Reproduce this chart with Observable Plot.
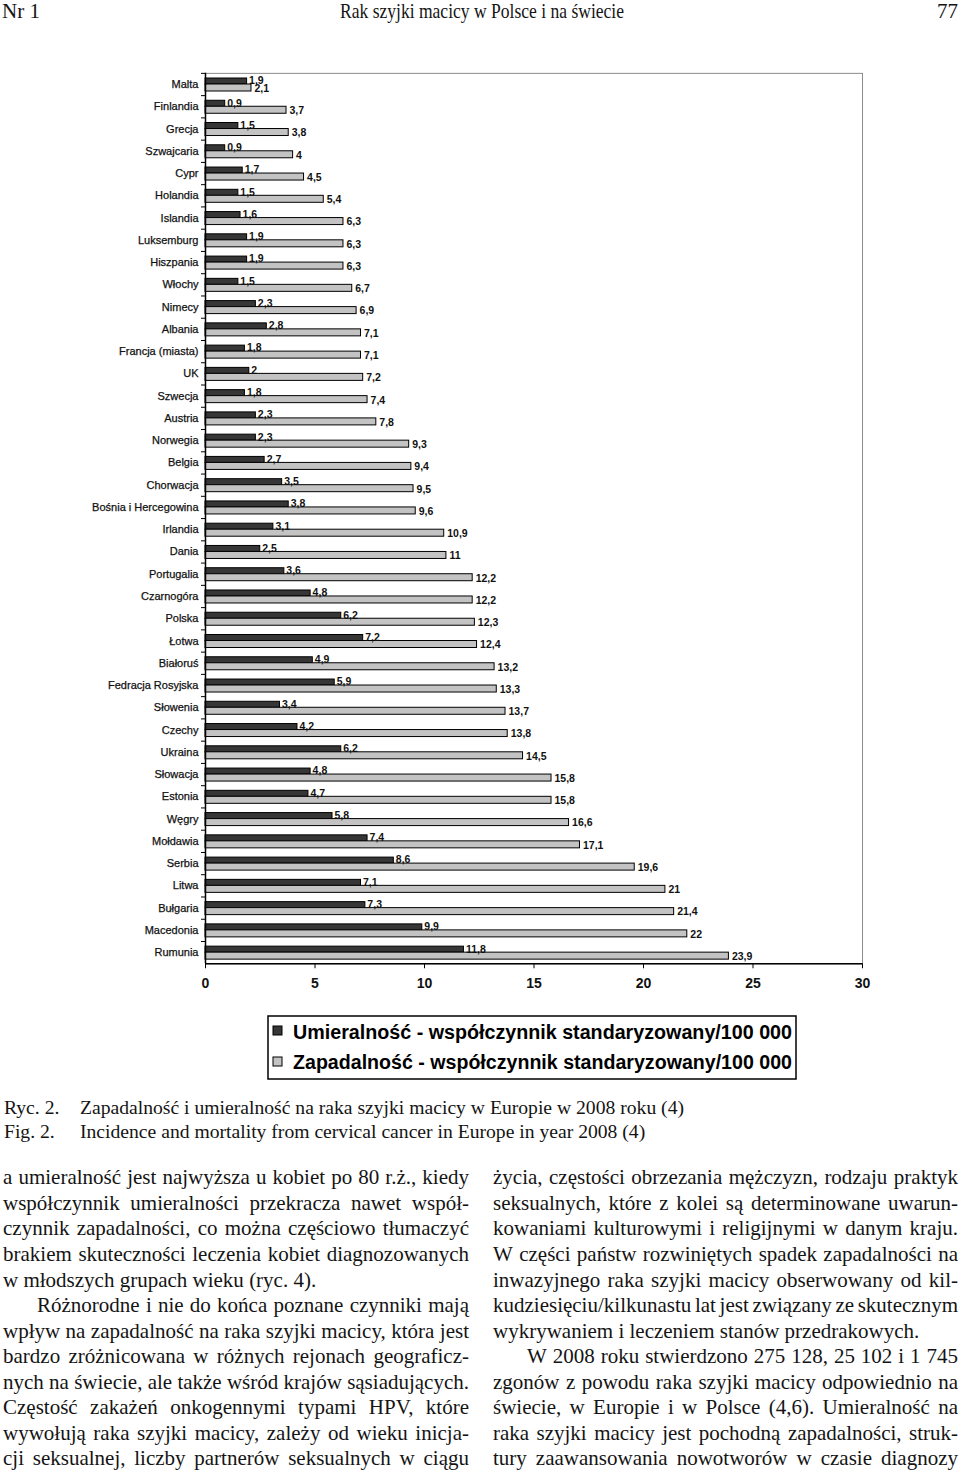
<!DOCTYPE html>
<html><head><meta charset="utf-8">
<script src="https://cdn.jsdelivr.net/npm/d3@7"></script>
<script src="https://cdn.jsdelivr.net/npm/@observablehq/plot@0.6"></script>
<style>
html,body{margin:0;padding:0;background:#fff;}
#page{position:relative;width:960px;height:1476px;overflow:hidden;background:#fff}
#chart{position:absolute;left:0;top:0}
#overlay{position:absolute;left:0;top:0}
#chart svg g[aria-label="y-axis tick label"] text{stroke:#111;stroke-width:0.25px}
</style></head><body>
<div id="page"><div id="chart"></div><svg id="overlay" width="960" height="1476"></svg></div>
<script>
// ---- data ----
const countries = ["Malta","Finlandia","Grecja","Szwajcaria","Cypr","Holandia","Islandia","Luksemburg","Hiszpania","Włochy","Nimecy","Albania","Francja (miasta)","UK","Szwecja","Austria","Norwegia","Belgia","Chorwacja","Bośnia i Hercegowina","Irlandia","Dania","Portugalia","Czarnogóra","Polska","Łotwa","Białoruś","Fedracja Rosyjska","Słowenia","Czechy","Ukraina","Słowacja","Estonia","Węgry","Mołdawia","Serbia","Litwa","Bułgaria","Macedonia","Rumunia"];
const mortality = [1.9,0.9,1.5,0.9,1.7,1.5,1.6,1.9,1.9,1.5,2.3,2.8,1.8,2,1.8,2.3,2.3,2.7,3.5,3.8,3.1,2.5,3.6,4.8,6.2,7.2,4.9,5.9,3.4,4.2,6.2,4.8,4.7,5.8,7.4,8.6,7.1,7.3,9.9,11.8];
const incidence = [2.1,3.7,3.8,4,4.5,5.4,6.3,6.3,6.3,6.7,6.9,7.1,7.1,7.2,7.4,7.8,9.3,9.4,9.5,9.6,10.9,11,12.2,12.2,12.3,12.4,13.2,13.3,13.7,13.8,14.5,15.8,15.8,16.6,17.1,19.6,21,21.4,22,23.9];
const xTicks = [0,5,10,15,20,25,30];
const seriesNames = ["Umieralność - współczynnik standaryzowany/100 000","Zapadalność - współczynnik standaryzowany/100 000"];
const headerLeft = "Nr 1", headerTitle = "Rak szyjki macicy w Polsce i na świecie", headerPage = "77";
const captionLabels = ["Ryc. 2.","Fig. 2."];
const captionTexts = ["Zapadalność i umieralność na raka szyjki macicy w Europie w 2008 roku (4)","Incidence and mortality from cervical cancer in Europe in year 2008 (4)"];
const leftLines = [
 ["a umieralność jest najwyższa u kobiet po 80 r.ż., kiedy",0,1],
 ["współczynnik umieralności przekracza nawet współ-",0,1],
 ["czynnik zapadalności, co można częściowo tłumaczyć",0,1],
 ["brakiem skuteczności leczenia kobiet diagnozowanych",0,1],
 ["w młodszych grupach wieku (ryc. 4).",0,0],
 ["Różnorodne i nie do końca poznane czynniki mają",1,1],
 ["wpływ na zapadalność na raka szyjki macicy, która jest",0,1],
 ["bardzo zróżnicowana w różnych rejonach geograficz-",0,1],
 ["nych na świecie, ale także wśród krajów sąsiadujących.",0,1],
 ["Częstość zakażeń onkogennymi typami HPV, które",0,1],
 ["wywołują raka szyjki macicy, zależy od wieku inicja-",0,1],
 ["cji seksualnej, liczby partnerów seksualnych w ciągu",0,1]
];
const rightLines = [
 ["życia, częstości obrzezania mężczyzn, rodzaju praktyk",0,1],
 ["seksualnych, które z kolei są determinowane uwarun-",0,1],
 ["kowaniami kulturowymi i religijnymi w danym kraju.",0,1],
 ["W części państw rozwiniętych spadek zapadalności na",0,1],
 ["inwazyjnego raka szyjki macicy obserwowany od kil-",0,1],
 ["kudziesięciu/kilkunastu lat jest związany ze skutecznym",0,1],
 ["wykrywaniem i leczeniem stanów przedrakowych.",0,0],
 ["W 2008 roku stwierdzono 275 128, 25 102 i 1 745",1,1],
 ["zgonów z powodu raka szyjki macicy odpowiednio na",0,1],
 ["świecie, w Europie i w Polsce (4,6). Umieralność na",0,1],
 ["raka szyjki macicy jest pochodną zapadalności, struk-",0,1],
 ["tury zaawansowania nowotworów w czasie diagnozy",0,1]
];

// ---- chart ----
const rows = countries.map((c,i)=>({country:c, mort:mortality[i], inc:incidence[i]}));
const fmt = v => String(v).replace(".", ",");
const darkFill = "#363636", lightFill = "#c3c3c3";
const H = 1000, mTop = 72.87, band = 22.26;
const mBottom = H - (mTop + band*countries.length);

const chart = Plot.plot({
  width: 960, height: H,
  marginTop: mTop, marginBottom: mBottom, marginLeft: 205, marginRight: 98,
  style: {fontFamily: "'Liberation Sans', Arial, sans-serif", color: "#111", background: "transparent"},
  x: {domain: [0,30], axis: null},
  y: {type: "band", domain: countries, padding: 0, round: false, axis: null},
  marks: [
    Plot.frame({stroke: "#8c8c8c", strokeWidth: 1}),
    Plot.barX(rows, {x: "mort", y: "country", fill: darkFill, stroke: "#000", strokeWidth: 1, insetTop: 5.13, insetBottom: 11.13}),
    Plot.barX(rows, {x: "inc", y: "country", fill: lightFill, stroke: "#000", strokeWidth: 1, insetTop: 11.13, insetBottom: 4.13}),
    Plot.text(rows, {x: "mort", y: "country", text: d => fmt(d.mort), dx: 2, dy: -3.5, textAnchor: "start", fontSize: 10.5, fontWeight: "bold", fill: "#111"}),
    Plot.text(rows, {x: "inc", y: "country", text: d => fmt(d.inc), dx: 3, dy: 4, textAnchor: "start", fontSize: 10.5, fontWeight: "bold", fill: "#111"}),
    Plot.ruleX([0], {stroke: "#000", strokeWidth: 1.5}),
    Plot.ruleY([countries[countries.length-1]], {dy: band/2, stroke: "#000", strokeWidth: 1.5}),
    Plot.axisY({tickSize: 0, tickPadding: 7, fontSize: 11, label: null, fill: "#111"}),
    Plot.axisY({tickSize: 4, tickFormat: () => "", dy: -band/2, label: null, stroke: "#000"}),
    Plot.axisX({ticks: xTicks, tickSize: 5, tickPadding: 9, fontSize: 14, fontWeight: "bold", label: null, tickFormat: d => String(d), stroke: "#000", fill: "#111"})
  ]
});
document.getElementById("chart").appendChild(chart);

// ---- overlay text ----
const NS = "http://www.w3.org/2000/svg";
const ov = document.getElementById("overlay");
const SERIF = "'Liberation Serif', 'Times New Roman', serif";
const SANS = "'Liberation Sans', Arial, sans-serif";
function el(tag, attrs, str) {
  const e = document.createElementNS(NS, tag);
  for (const k in attrs) e.setAttribute(k, attrs[k]);
  if (str !== undefined) e.textContent = str;
  ov.appendChild(e);
  return e;
}
function txt(str, x, y, size, family, extra) {
  return el("text", Object.assign({x, y, "font-family": family, "font-size": size, fill: "#141414"}, extra||{}), str);
}
function squeeze(t, w) { t.setAttribute("textLength", w); t.setAttribute("lengthAdjust", "spacingAndGlyphs"); }

// header
{
  const title = txt(headerTitle, 340, 18, 21, SERIF);
  squeeze(title, 284);
  txt(headerLeft, 2, 18, 21, SERIF);
  txt(headerPage, 958, 18, 21, SERIF, {"text-anchor": "end"});
}

// legend
el("rect", {x: 268, y: 1016, width: 528, height: 63, fill: "none", stroke: "#000", "stroke-width": 1.5});
[darkFill, lightFill].forEach((f, i) => {
  el("rect", {x: 273, y: 1026 + i*31, width: 9, height: 9, fill: f, stroke: "#000", "stroke-width": 1});
  const t = txt(seriesNames[i], 293, 1039 + i*30, 19.5, SANS, {"font-weight": "bold", fill: "#000"});
  squeeze(t, 499);
});

// captions
{
  const c1 = txt(captionTexts[0], 80, 1114, 19, SERIF);
  const s = 604 / c1.getComputedTextLength();
  squeeze(c1, 604);
  const c2 = txt(captionTexts[1], 80, 1138, 19, SERIF);
  squeeze(c2, c2.getComputedTextLength()*s);
  captionLabels.forEach((lab, i) => {
    const t = txt(lab, 4, 1114 + i*24, 19, SERIF);
    squeeze(t, t.getComputedTextLength()*s);
  });
}

// body columns
function column(lines, x0, x1, y0, lh, indent, size) {
  lines.forEach(([line, ind, just], li) => {
    const y = y0 + li*lh;
    const start = x0 + (ind ? indent : 0);
    const W = x1 - start;
    const words = line.split(" ");
    const els = words.map(w => txt(w, 0, y, size, SERIF));
    const widths = els.map(e => e.getComputedTextLength());
    const total = d3.sum(widths);
    const space = size * 0.25;
    const n = words.length;
    let s = 1, gap = space;
    if (just && n > 1) {
      gap = (W - total) / (n - 1);
      const minGap = space * 0.6;
      if (gap < minGap) { gap = minGap; s = (W - (n-1)*minGap) / total; }
    }
    let x = start;
    els.forEach((e, i) => {
      e.setAttribute("x", x);
      if (s !== 1) squeeze(e, widths[i]*s);
      x += widths[i]*s + gap;
    });
  });
}
column(leftLines, 3, 469, 1184.3, 25.55, 34, 21);
column(rightLines, 493, 958, 1184.3, 25.55, 34, 21);
</script>
</body></html>
